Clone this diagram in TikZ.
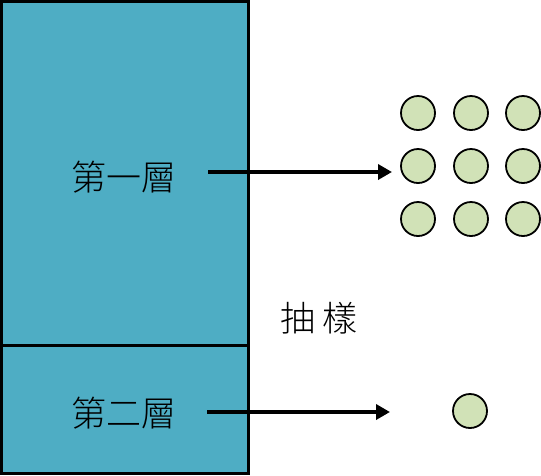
\documentclass[tikz,border=0pt]{standalone}
\usepackage{fontspec}
\newfontfamily\cjk{Noto Sans CJK TC Light}
\usetikzlibrary{arrows.meta}
\definecolor{layerblue}{HTML}{4EADC4}
\definecolor{dotgreen}{HTML}{D1E2B7}
\tikzset{
  layer/.style={fill=layerblue, draw=black, line width=3pt},
  dot/.style={circle, draw=black, line width=1.8pt, fill=dotgreen, minimum size=34pt, inner sep=0pt},
  lbl/.style={font=\cjk\fontsize{35}{40}\selectfont, inner sep=0pt},
  samplearrow/.style={line width=3.6pt, -{Triangle[length=14pt,width=15pt]}}
}
\begin{document}
\begin{tikzpicture}[x=1pt,y=-1pt]
\useasboundingbox (0,0) rectangle (541,475);
% two layers
\draw[layer] (1.5,1.5) rectangle (248,345);
\draw[layer] (1.5,345) rectangle (248,473.5);
\node[lbl] (first) at (124,177) {第一層};
\node[lbl] (second) at (124,413) {第二層};
\node[lbl] (sampling) at (319,318) {抽\hspace{8pt}樣};
% samples from first layer
\foreach \r/\y in {1/113,2/166,3/219}
  \foreach \c/\x in {1/418,2/471,3/523}
    \node[dot] (d\r\c) at (\x,\y) {};
\node[dot] (e) at (470,411) {};
\coordinate (s1) at (208,172);
\coordinate (t1) at (392,172);
\coordinate (s2) at (207,412);
\coordinate (t2) at (390,412);
\draw[samplearrow] (s1) -- (t1);
\draw[samplearrow] (s2) -- (t2);
\end{tikzpicture}
\end{document}
